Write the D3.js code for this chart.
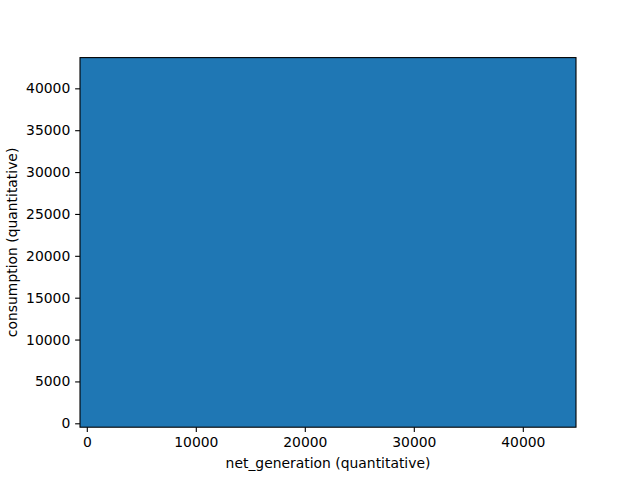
<!DOCTYPE html>
<html>
<head>
<meta charset="utf-8">
<script src="https://cdn.jsdelivr.net/npm/d3@7"></script>
<style>
  body { margin: 0; background: #fff; }
  text { font-family: "DejaVu Sans", sans-serif; }
</style>
</head>
<body>
<svg></svg>
<script>
const width = 640
const height = 480

// bin edges of the 2d cells (data units) and their counts
const xEdges = [-624, 44880]
const yEdges = [-466, 43670]
const counts = [[1]]

const xTicks = [0, 10000, 20000, 30000, 40000]
const yTicks = [0, 5000, 10000, 15000, 20000, 25000, 30000, 35000, 40000]

const xTitle = 'net_generation (quantitative)'
const yTitle = 'consumption (quantitative)'

const margin = {left: 80, right: 64, top: 57.6, bottom: 52.8}

const svg = d3.select('svg').attr('width', width).attr('height', height)

const x = d3.scaleLinear()
  .domain([xEdges[0], xEdges[xEdges.length - 1]])
  .range([margin.left, width - margin.right])
const y = d3.scaleLinear()
  .domain([yEdges[0], yEdges[yEdges.length - 1]])
  .range([height - margin.bottom, margin.top])

// flatten cells
const cells = []
counts.forEach((row, j) => row.forEach((c, i) => {
  cells.push({x0: xEdges[i], x1: xEdges[i + 1], y0: yEdges[j], y1: yEdges[j + 1], c})
}))

svg.append('g')
  .selectAll('rect')
  .data(cells.filter(d => d.c > 0))
  .enter().append('rect')
  .attr('x', d => x(d.x0))
  .attr('y', d => y(d.y1))
  .attr('width', d => x(d.x1) - x(d.x0))
  .attr('height', d => y(d.y0) - y(d.y1))
  .attr('fill', '#1f77b4')

const tickSize = 4.86
const fontSize = 13.9

const xAxis = svg.append('g')
  .attr('transform', `translate(0,${height - margin.bottom})`)
  .call(d3.axisBottom(x).tickValues(xTicks).tickFormat(d3.format('d')).tickSize(tickSize).tickPadding(4.86))
const yAxis = svg.append('g')
  .attr('transform', `translate(${margin.left},0)`)
  .call(d3.axisLeft(y).tickValues(yTicks).tickFormat(d3.format('d')).tickSize(tickSize).tickPadding(4.86))

;[xAxis, yAxis].forEach(g => {
  g.select('.domain').remove()
  g.selectAll('line').attr('stroke', '#000').attr('stroke-width', 1.1)
  g.selectAll('text').attr('fill', '#000').style('font-size', fontSize + 'px')
    .style('font-family', '"DejaVu Sans", sans-serif')
})

// spines
svg.append('rect')
  .attr('x', margin.left)
  .attr('y', margin.top)
  .attr('width', width - margin.left - margin.right)
  .attr('height', height - margin.top - margin.bottom)
  .attr('fill', 'none')
  .attr('stroke', '#000')
  .attr('stroke-width', 1.1)

svg.append('text')
  .attr('x', (margin.left + width - margin.right) / 2)
  .attr('y', 468)
  .attr('text-anchor', 'middle')
  .style('font-size', fontSize + 'px')
  .text(xTitle)

svg.append('text')
  .attr('transform', `translate(17,${(margin.top + height - margin.bottom) / 2}) rotate(-90)`)
  .attr('text-anchor', 'middle')
  .style('font-size', fontSize + 'px')
  .text(yTitle)
</script>
</body>
</html>
